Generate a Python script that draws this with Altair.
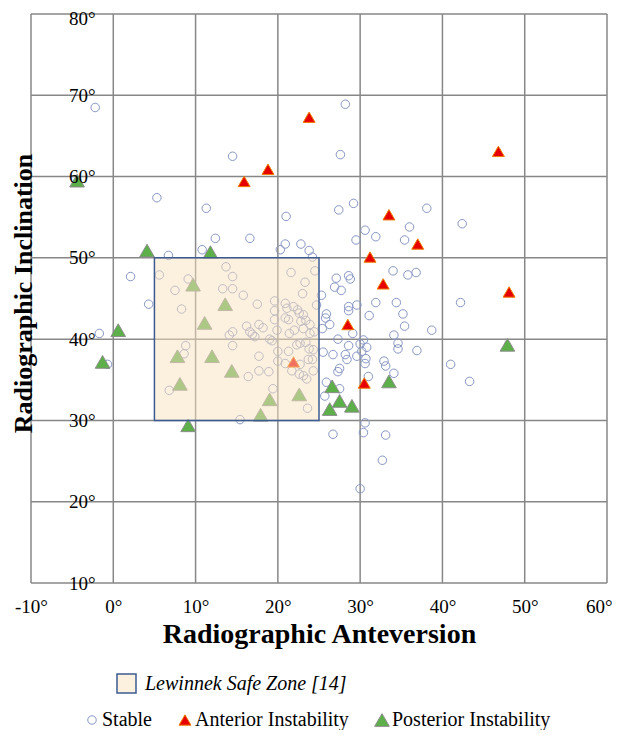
import altair as alt
import pandas as pd

# ---- data ----
x_ticks = [-10, 0, 10, 20, 30, 40, 50, 60]
y_ticks = [10, 20, 30, 40, 50, 60, 70, 80]

stable_x = [-2.2, 14.5, 5.3, 11.3, 21.0, 12.4, 16.6, 10.8, 6.7, 20.9, 20.3, 22.8, 23.8, 24.2, 2.1, 5.6, 13.7, 14.5, 9.1, 7.5,
            13.3, 14.5, 15.8, 21.6, 23.3, 23.0, 24.5,
            28.2, 27.6, 29.2, 27.4, 38.1, 42.4, 36.0, 30.6, 31.9, 29.5, 35.4,
            27.1, 28.6, 28.8, 26.9, 27.7, 25.3, 34.0, 35.8, 36.8,
            42.2, 31.9, 34.4, 29.6, 28.6, 28.6, 25.9, 25.8, 26.3, 25.4, 31.1, 35.2, 35.4, 38.7, 29.1, 27.3, 28.6, 30.0,
            30.4, 30.8, 30.2, 25.5, 26.7, 28.2, 28.4, 29.6, 30.7, 30.6, 34.1, 34.6, 34.6, 36.9, 32.9, 33.1, 34.1, 41.0,
            43.3, 27.5, 27.3, 31.0, 25.9, 27.5, 25.7, 30.6, 30.4, 26.7, 33.1, 32.7, 30.0, 24.7,
            4.3, 8.3, 17.5, -1.7, -0.7, 8.8, 8.6, 6.8, 14.5, 14.1, 14.5, 16.2, 16.6, 16.9, 17.2, 17.7, 18.2, 17.7, 17.7,
            18.9, 16.4, 19.4, 15.4, 23.6,
            19.6, 19.6, 20.9, 21.1, 21.9, 22.4, 22.6, 23.1, 23.4, 22.8, 20.9, 21.3, 19.6, 23.1, 23.9, 22.0, 21.4, 19.9,
            19.0, 19.3, 22.7, 23.4, 23.8, 24.3, 22.3, 21.3, 20.0, 20.0, 20.9, 23.7, 22.7, 24.2, 24.3, 23.1, 22.6, 23.5,
            21.7, 23.9, 24.4]
stable_y = [68.5, 62.5, 57.4, 56.1, 55.1, 52.4, 52.4, 51.0, 50.3, 51.7, 51.0, 51.7, 50.9, 50.1, 47.7, 47.9, 48.9, 47.7, 47.4, 46.0,
            46.2, 46.2, 45.4, 48.2, 47.0, 45.6, 48.4,
            68.9, 62.7, 56.7, 55.9, 56.1, 54.2, 53.8, 53.4, 52.6, 52.2, 52.2,
            47.5, 47.8, 47.4, 46.4, 46.0, 45.4, 48.4, 47.9, 48.2,
            44.5, 44.5, 44.5, 44.2, 44.0, 43.5, 43.1, 42.6, 41.8, 41.3, 42.9, 43.1, 41.6, 41.1, 40.7, 40.0, 39.2, 39.4,
            39.9, 39.0, 38.5, 38.4, 38.1, 38.1, 37.5, 37.9, 37.6, 37.0, 40.5, 39.5, 38.8, 38.6, 37.3, 36.7, 35.8, 36.9,
            34.8, 36.4, 36.0, 35.4, 34.7, 33.9, 33.0, 29.7, 28.5, 28.3, 28.2, 25.1, 21.6, 44.2,
            44.3, 43.7, 44.3, 40.7, 36.9, 39.2, 38.2, 33.7, 39.2, 40.5, 40.9, 41.6, 40.9, 40.6, 40.3, 41.8, 41.4, 37.9, 36.1,
            36.0, 35.4, 33.9, 30.1, 31.5,
            44.7, 43.5, 44.4, 43.8, 44.0, 43.6, 43.2, 43.0, 42.3, 42.2, 42.6, 42.4, 42.4, 41.3, 40.7, 41.1, 40.7, 41.1,
            40.0, 39.8, 39.5, 39.6, 38.8, 38.7, 39.3, 38.5, 38.5, 37.3, 37.0, 37.5, 36.9, 37.5, 36.1, 35.5, 35.7, 35.1,
            36.1, 41.8, 40.9]

anterior_x = [23.8, 18.8, 15.9, 46.8, 33.5, 37.0, 31.2, 32.8, 48.1, 28.5, 30.5, 21.9]
anterior_y = [67.3, 60.9, 59.4, 63.1, 55.3, 51.7, 50.1, 46.8, 45.8, 41.8, 34.6, 37.2]

posterior_x = [-4.4, 4.1, 11.8, 9.7, 13.6, 11.1, 0.6, -1.3, 7.8, 12.0, 14.4, 8.1, 19.0, 17.9, 9.1, 22.6, 47.9,
               33.5, 26.6, 27.5, 29.0, 26.3]
posterior_y = [59.5, 50.9, 50.7, 46.7, 44.3, 42.0, 41.1, 37.2, 37.9, 37.9, 36.1, 34.5, 32.6, 30.7, 29.4, 33.2, 39.3,
               34.8, 34.2, 32.4, 31.8, 31.4]

groups = ["Stable", "Anterior Instability", "Posterior Instability"]
zone_label = "Lewinnek Safe Zone [14]"
zone_x = [5, 25]
zone_y = [30, 50]

# ---- tables ----
pts = pd.concat([
    pd.DataFrame({"x": stable_x, "y": stable_y, "group": groups[0]}),
    pd.DataFrame({"x": anterior_x, "y": anterior_y, "group": groups[1]}),
    pd.DataFrame({"x": posterior_x, "y": posterior_y, "group": groups[2]}),
], ignore_index=True)
pts["order"] = range(len(pts))
zone = pd.DataFrame({"x": [zone_x[0]], "x2": [zone_x[1]], "y": [zone_y[0]], "y2": [zone_y[1]], "zone": [zone_label]})
gx = pd.DataFrame({"v": x_ticks})
gy = pd.DataFrame({"v": y_ticks})

FONT = "Liberation Serif"
xscale = alt.Scale(domain=[-10, 60], nice=False, zero=False)
yscale = alt.Scale(domain=[10, 80], nice=False, zero=False)

xaxis = alt.Axis(values=x_ticks, labelExpr="datum.value + '°'", labelFont=FONT, labelFontSize=19,
                 labelColor="black", labelBaseline="middle", labelPadding=23, ticks=False, tickSize=0,
                 labelAlign={"condition": {"test": "datum.value == 60", "value": "right"}, "value": "center"},
                 labelOffset={"condition": {"test": "datum.value == 60", "value": 5}, "value": 0},
                 domain=False, grid=False, title="Radiographic Anteversion", titleFont=FONT,
                 titleFontSize=28, titleFontWeight="bold", titleColor="black",
                 titleBaseline="alphabetic", titleY=59, titleX=288)
yaxis = alt.Axis(values=y_ticks, labelExpr="datum.value + '°'", labelFont=FONT, labelFontSize=19,
                 labelColor="black", labelAlign="right", labelBaseline="middle", labelPadding=-64,
                 labelOffset={"condition": {"test": "datum.value == 80", "value": 4}, "value": 0},
                 ticks=False, tickSize=0, domain=False, grid=False, zindex=1,
                 title="Radiographic Inclination", titleFont=FONT, titleFontSize=26,
                 titleFontWeight="bold", titleColor="black", titleAngle=270, titleAlign="center",
                 titleBaseline="alphabetic", titleX=0, titleY=279)

def X(field):
    return alt.X(field, type="quantitative", scale=xscale, axis=xaxis)

def Y(field):
    return alt.Y(field, type="quantitative", scale=yscale, axis=yaxis)

grid_x = alt.Chart(gx).mark_rule(color="#878787", strokeWidth=1.5).encode(x=X("v"))
grid_y = alt.Chart(gy).mark_rule(color="#878787", strokeWidth=1.5).encode(y=Y("v"))

pleg = alt.Legend(orient="none", legendX=51, legendY=696, direction="horizontal", columns=3, title=None,
                  labelFont=FONT, labelFontSize=20, labelColor="black", labelOffset=0, columnPadding=23,
                  padding=0, labelLimit=0, symbolStrokeWidth=1)

points = alt.Chart(pts).mark_point(filled=True, opacity=1, strokeWidth=1).encode(
    x=X("x"), y=Y("y"),
    shape=alt.Shape("group:N", scale=alt.Scale(domain=groups, range=["circle", "triangle-up", "triangle-up"]), legend=pleg),
    size=alt.Size("group:N", scale=alt.Scale(domain=groups, range=[72, 215, 215]), legend=pleg),
    fill=alt.Fill("group:N", scale=alt.Scale(domain=groups, range=["rgba(0,0,0,0)", "#E60000", "#5DAF4A"]), legend=pleg),
    stroke=alt.Stroke("group:N", scale=alt.Scale(domain=groups, range=["#8796C4", "#F07D00", "#8C8C8C"]), legend=pleg),
    order=alt.Order("order:Q"),
)

zleg = alt.Legend(orient="none", legendX=85, legendY=659, title=None, symbolType="square", symbolSize=361,
                  symbolStrokeColor="#3B5B92", symbolStrokeWidth=1.5, labelFont=FONT, labelFontSize=20,
                  labelFontStyle="italic", labelColor="black", labelOffset=8, padding=0, labelLimit=0)

box = alt.Chart(zone).mark_rect(stroke="#3B5B92", strokeWidth=1.5).encode(
    x=X("x"), x2="x2", y=Y("y"), y2="y2",
    color=alt.Color("zone:N", scale=alt.Scale(domain=[zone_label], range=["rgba(250,225,192,0.5)"]), legend=zleg),
)

chart = alt.layer(grid_x, grid_y, points, box).properties(
    width=576, height=569,
    autosize=alt.AutoSizeParams(type="none"),
    padding={"left": 23, "top": 6, "right": 5, "bottom": 147},
    background="white",
).configure_view(strokeWidth=0)

chart.save("out.html", embed_options={"renderer": "svg", "actions": False})
